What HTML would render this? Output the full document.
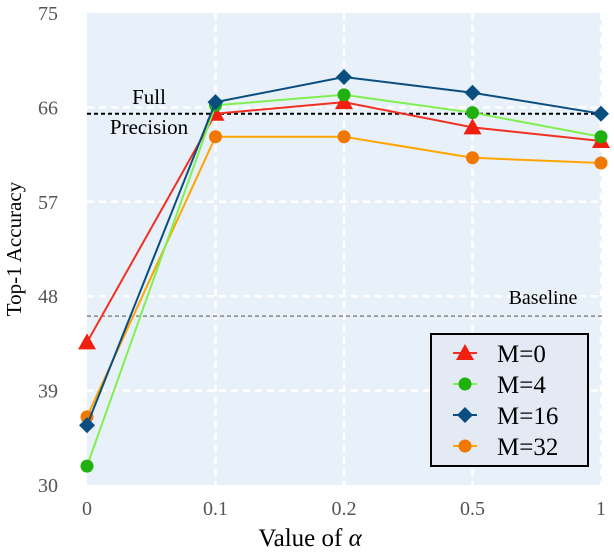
<!DOCTYPE html>
<html><head><meta charset="utf-8"><style>
body{margin:0;background:#fff;}
svg text{font-family:"Liberation Serif","DejaVu Serif",serif;}
</style></head><body>
<svg id="chart" width="614" height="552" xmlns="http://www.w3.org/2000/svg">
<rect x="87" y="13" width="515" height="472" fill="#e8f0fa"/>
<g id="grid"></g><g id="ref"></g><g id="series"></g><g id="axes"></g>
<g>
<rect x="431" y="334" width="157" height="132" fill="#e3eaf3" stroke="#000" stroke-width="2"/>
</g>
<g id="legend-items"></g>
<text x="310" y="546" font-size="25" text-anchor="middle">Value of <tspan font-style="italic">α</tspan></text>
<text transform="translate(21,249) rotate(-90)" font-size="21" text-anchor="middle">Top-1 Accuracy</text>
</svg>
<script>
const categories=["0","0.1","0.2","0.5","1"];
const yTicks=[30,39,48,57,66,75];
const m0=[43.6,65.4,66.5,64.1,62.8];
const m4=[31.8,66.2,67.2,65.5,63.2];
const m16=[35.7,66.5,68.9,67.4,65.4];
const m32=[36.5,63.2,63.2,61.2,60.7];
const fullPrecision=65.4;
const baseline=46.1;
const seriesNames=["M=0","M=4","M=16","M=32"];
const NS="http://www.w3.org/2000/svg";
const X0=87,XS=128.5,YT=13,YB=485,YMIN=30,YMAX=75;
const xs=i=>X0+i*XS;
const ys=v=>YB-(v-YMIN)/(YMAX-YMIN)*(YB-YT);
function mk(tag,attrs,parent){const e=document.createElementNS(NS,tag);for(const k in attrs)e.setAttribute(k,attrs[k]);document.getElementById(parent).appendChild(e);return e;}
categories.forEach((c,i)=>{
 if(i>0){const g=mk('line',{x1:xs(i),x2:xs(i),y1:YT,y2:YB,stroke:'#fff','stroke-width':2.5,'stroke-dasharray':'7,5'},'grid');
 
 }
 const t=mk('text',{x:xs(i),y:515,'font-size':20,fill:'#555','text-anchor':'middle'},'axes');t.textContent=c;
 
 
});
yTicks.forEach(v=>{
 if(v>YMIN&&v<YMAX){const g=mk('line',{x1:X0,x2:602,y1:ys(v),y2:ys(v),stroke:'#fff','stroke-width':2.5,'stroke-dasharray':'7,5'},'grid');
 
 }
 const t=mk('text',{x:58,y:ys(v)+7,'font-size':20,fill:'#555','text-anchor':'end'},'axes');t.textContent=v;
 
 
});
const fp=mk('line',{x1:X0,x2:602,y1:ys(fullPrecision),y2:ys(fullPrecision),stroke:'#000','stroke-width':2,'stroke-dasharray':'4,3'},'ref');


const bl=mk('line',{x1:X0,x2:602,y1:ys(baseline),y2:ys(baseline),stroke:'#888','stroke-width':1.5,'stroke-dasharray':'4,3'},'ref');


let t1=mk('text',{x:149,y:104,'font-size':21,'text-anchor':'middle'},'ref');t1.textContent='Full';


let t2=mk('text',{x:149,y:134,'font-size':21,'text-anchor':'middle'},'ref');t2.textContent='Precision';


let t3=mk('text',{x:543,y:304,'font-size':20,'text-anchor':'middle'},'ref');t3.textContent='Baseline';


function marker(shape,x,y,fill,parent){
 if(shape==='tri')return mk('polygon',{points:`${x},${y-9} ${x-9},${y+7} ${x+9},${y+7}`,fill},parent);
 if(shape==='dia')return mk('polygon',{points:`${x},${y-8} ${x+8},${y} ${x},${y+8} ${x-8},${y}`,fill},parent);
 return mk('circle',{cx:x,cy:y,r:6.5,fill},parent);
}
const defs=[[m32,'#ffa500','#f07800','circ'],[m0,'#f03020','#f02010','tri'],[m4,'#80f050','#20b010','circ'],[m16,'#0a4e80','#0a4e80','dia']];
const names=['m32','m0','m4','m16'];
defs.forEach((d,k)=>{
 const pts=d[0].map((v,i)=>xs(i)+','+ys(v)).join(' ');
 const pl=mk('polyline',{points:pts,fill:'none',stroke:d[1],'stroke-width':2},'series');
 
 
 d[0].forEach((v,i)=>{const m=marker(d[3],xs(i),ys(v),d[2],'series');
 
 });
});
const legDefs=[['#f03020','#f02010','tri'],['#80f050','#20b010','circ'],['#0a4e80','#0a4e80','dia'],['#ffa500','#f07800','circ']];
legDefs.forEach((d,i)=>{
 const y=353+i*31;
 mk('line',{x1:453,x2:477,y1:y,y2:y,stroke:d[0],'stroke-width':2},'legend-items');
 const m=marker(d[2],465,y,d[1],'legend-items');
 
 
 const t=mk('text',{x:497,y:y+9,'font-size':25},'legend-items');t.textContent=seriesNames[i];
 
 
});
</script>
</body></html>
